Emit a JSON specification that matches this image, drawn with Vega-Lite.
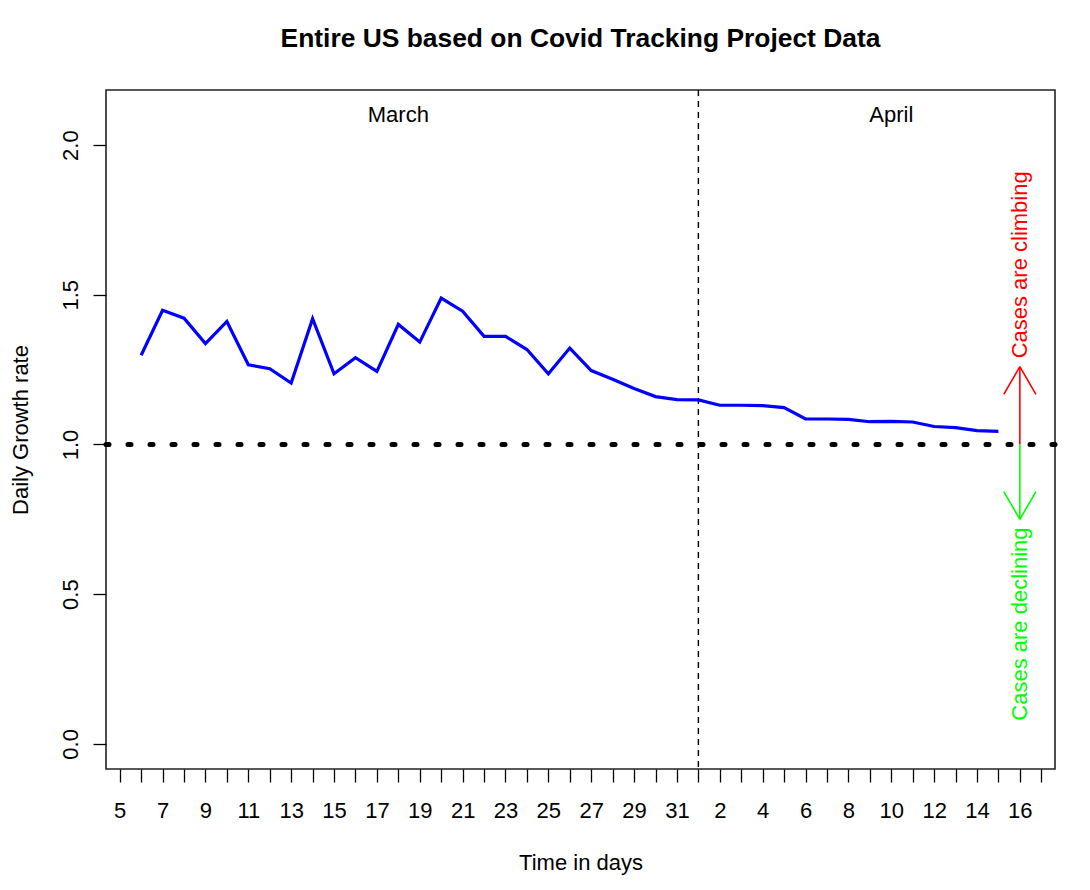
{
  "$schema": "https://vega.github.io/schema/vega-lite/v6.json",
  "width": 949,
  "height": 679,
  "autosize": {"type": "none"},
  "padding": {"left": 106, "top": 90, "right": 35, "bottom": 121},
  "background": "white",
  "title": {
    "text": "Entire US based on Covid Tracking Project Data",
    "font": "Liberation Sans",
    "fontSize": 26.4,
    "fontWeight": "bold",
    "color": "#000",
    "anchor": "middle",
    "baseline": "alphabetic",
    "offset": 16
  },
  "config": {
    "font": "Liberation Sans",
    "view": {"stroke": "#222", "strokeWidth": 1.6},
    "axis": {
      "grid": false,
      "domain": false,
      "tickColor": "#000",
      "tickSize": 13,
      "tickWidth": 1.3,
      "labelFont": "Liberation Sans",
      "labelFontSize": 22,
      "labelColor": "#000",
      "titleFont": "Liberation Sans",
      "titleFontSize": 22,
      "titleFontWeight": "normal",
      "titleColor": "#000"
    }
  },
  "layer": [
    {
      "data": {"values": [{"value": 1}]},
      "mark": {"type": "rule", "color": "#000", "strokeWidth": 5, "strokeDash": [3, 19], "strokeCap": "round"},
      "encoding": {
        "y": {"field": "value", "type": "quantitative", "scale": {"domain": [-0.084, 2.184], "nice": false, "zero": false}}
      }
    },
    {
      "data": {"values": [{"date": "2020-04-01"}]},
      "mark": {"type": "rule", "color": "#000", "strokeWidth": 1.4, "strokeDash": [6, 5]},
      "encoding": {
        "x": {"field": "date", "type": "temporal", "scale": {"type": "utc", "domain": [{"year": 2020, "month": 3, "date": 4, "hours": 8, "minutes": 38, "seconds": 24, "utc": true}, {"year": 2020, "month": 4, "date": 17, "hours": 15, "minutes": 21, "seconds": 36, "utc": true}]}}
      }
    },
    {
      "data": {
        "values": [
          {"date": "2020-03-06", "value": 1.298},
          {"date": "2020-03-07", "value": 1.448},
          {"date": "2020-03-08", "value": 1.422},
          {"date": "2020-03-09", "value": 1.337},
          {"date": "2020-03-10", "value": 1.411},
          {"date": "2020-03-11", "value": 1.266},
          {"date": "2020-03-12", "value": 1.253},
          {"date": "2020-03-13", "value": 1.205},
          {"date": "2020-03-14", "value": 1.420},
          {"date": "2020-03-15", "value": 1.236},
          {"date": "2020-03-16", "value": 1.290},
          {"date": "2020-03-17", "value": 1.244},
          {"date": "2020-03-18", "value": 1.401},
          {"date": "2020-03-19", "value": 1.342},
          {"date": "2020-03-20", "value": 1.489},
          {"date": "2020-03-21", "value": 1.445},
          {"date": "2020-03-22", "value": 1.361},
          {"date": "2020-03-23", "value": 1.361},
          {"date": "2020-03-24", "value": 1.317},
          {"date": "2020-03-25", "value": 1.236},
          {"date": "2020-03-26", "value": 1.322},
          {"date": "2020-03-27", "value": 1.247},
          {"date": "2020-03-28", "value": 1.218},
          {"date": "2020-03-29", "value": 1.187},
          {"date": "2020-03-30", "value": 1.160},
          {"date": "2020-03-31", "value": 1.150},
          {"date": "2020-04-01", "value": 1.149},
          {"date": "2020-04-02", "value": 1.131},
          {"date": "2020-04-03", "value": 1.131},
          {"date": "2020-04-04", "value": 1.130},
          {"date": "2020-04-05", "value": 1.123},
          {"date": "2020-04-06", "value": 1.085},
          {"date": "2020-04-07", "value": 1.085},
          {"date": "2020-04-08", "value": 1.084},
          {"date": "2020-04-09", "value": 1.076},
          {"date": "2020-04-10", "value": 1.077},
          {"date": "2020-04-11", "value": 1.075},
          {"date": "2020-04-12", "value": 1.060},
          {"date": "2020-04-13", "value": 1.056},
          {"date": "2020-04-14", "value": 1.046},
          {"date": "2020-04-15", "value": 1.044}
        ]
      },
      "mark": {"type": "line", "color": "#0000FF", "strokeWidth": 3.2},
      "encoding": {
        "x": {
          "field": "date",
          "type": "temporal",
          "scale": {"type": "utc", "domain": [{"year": 2020, "month": 3, "date": 4, "hours": 8, "minutes": 38, "seconds": 24, "utc": true}, {"year": 2020, "month": 4, "date": 17, "hours": 15, "minutes": 21, "seconds": 36, "utc": true}]},
          "axis": {
            "title": "Time in days",
            "tickCount": {"interval": "day", "step": 1},
            "labelExpr": "round((datum.value - utc(2020, 2, 5)) / 86400000) % 2 == 0 ? '' + utcdate(datum.value) : ''",
            "labelOverlap": false,
            "labelFlush": false,
            "labelBound": false,
            "labelAngle": 0,
            "labelAlign": "center",
            "labelBaseline": "alphabetic",
            "labelPadding": 35,
            "titleX": 474.5,
            "titleY": 100,
            "titleAlign": "center",
            "titleBaseline": "alphabetic"
          }
        },
        "y": {
          "field": "value",
          "type": "quantitative",
          "scale": {"domain": [-0.084, 2.184], "nice": false, "zero": false},
          "axis": {
            "title": "Daily Growth rate",
            "values": [0, 0.5, 1, 1.5, 2],
            "format": ".1f",
            "labelAngle": -90,
            "labelAlign": "center",
            "labelBaseline": "alphabetic",
            "labelPadding": 16,
            "titleAngle": -90,
            "titleX": -79,
            "titleY": 339.5,
            "titleAlign": "center",
            "titleBaseline": "alphabetic"
          }
        }
      }
    },
    {
      "data": {
        "values": [
          {"date": "2020-04-16T00:00:00Z", "value": 1, "date2": "2020-04-16T00:00:00Z", "value2": 1.26, "dir": "up"},
          {"date": "2020-04-15T06:00:00Z", "value": 1.1675, "date2": "2020-04-16T00:00:00Z", "value2": 1.26, "dir": "up"},
          {"date": "2020-04-16T18:00:00Z", "value": 1.1675, "date2": "2020-04-16T00:00:00Z", "value2": 1.26, "dir": "up"},
          {"date": "2020-04-16T00:00:00Z", "value": 1, "date2": "2020-04-16T00:00:00Z", "value2": 0.75, "dir": "down"},
          {"date": "2020-04-15T06:00:00Z", "value": 0.8425, "date2": "2020-04-16T00:00:00Z", "value2": 0.75, "dir": "down"},
          {"date": "2020-04-16T18:00:00Z", "value": 0.8425, "date2": "2020-04-16T00:00:00Z", "value2": 0.75, "dir": "down"}
        ]
      },
      "mark": {"type": "rule", "strokeWidth": 1.6},
      "encoding": {
        "x": {"field": "date", "type": "temporal", "scale": {"type": "utc", "domain": [{"year": 2020, "month": 3, "date": 4, "hours": 8, "minutes": 38, "seconds": 24, "utc": true}, {"year": 2020, "month": 4, "date": 17, "hours": 15, "minutes": 21, "seconds": 36, "utc": true}]}},
        "x2": {"field": "date2"},
        "y": {"field": "value", "type": "quantitative", "scale": {"domain": [-0.084, 2.184], "nice": false, "zero": false}},
        "y2": {"field": "value2"},
        "color": {"field": "dir", "type": "nominal", "scale": {"domain": ["up", "down"], "range": ["#FF0000", "#00FF00"]}, "legend": null}
      }
    },
    {
      "data": {
        "values": [
          {"date": "2020-03-18", "value": 2.1, "label": "March"},
          {"date": "2020-04-10", "value": 2.1, "label": "April"}
        ]
      },
      "mark": {"type": "text", "fontSize": 22, "color": "#000", "align": "center", "baseline": "middle"},
      "encoding": {
        "x": {"field": "date", "type": "temporal", "scale": {"type": "utc", "domain": [{"year": 2020, "month": 3, "date": 4, "hours": 8, "minutes": 38, "seconds": 24, "utc": true}, {"year": 2020, "month": 4, "date": 17, "hours": 15, "minutes": 21, "seconds": 36, "utc": true}]}},
        "y": {"field": "value", "type": "quantitative", "scale": {"domain": [-0.084, 2.184], "nice": false, "zero": false}},
        "text": {"field": "label"}
      }
    },
    {
      "data": {
        "values": [
          {"date": "2020-04-16", "value": 1.6, "label": "Cases are climbing", "dir": "up"},
          {"date": "2020-04-16", "value": 0.4, "label": "Cases are declining", "dir": "down"}
        ]
      },
      "mark": {"type": "text", "fontSize": 22, "angle": 270, "align": "center", "baseline": "middle"},
      "encoding": {
        "x": {"field": "date", "type": "temporal", "scale": {"type": "utc", "domain": [{"year": 2020, "month": 3, "date": 4, "hours": 8, "minutes": 38, "seconds": 24, "utc": true}, {"year": 2020, "month": 4, "date": 17, "hours": 15, "minutes": 21, "seconds": 36, "utc": true}]}},
        "y": {"field": "value", "type": "quantitative", "scale": {"domain": [-0.084, 2.184], "nice": false, "zero": false}},
        "text": {"field": "label"},
        "color": {"field": "dir", "type": "nominal", "scale": {"domain": ["up", "down"], "range": ["#FF0000", "#00FF00"]}, "legend": null}
      }
    }
  ]
}
